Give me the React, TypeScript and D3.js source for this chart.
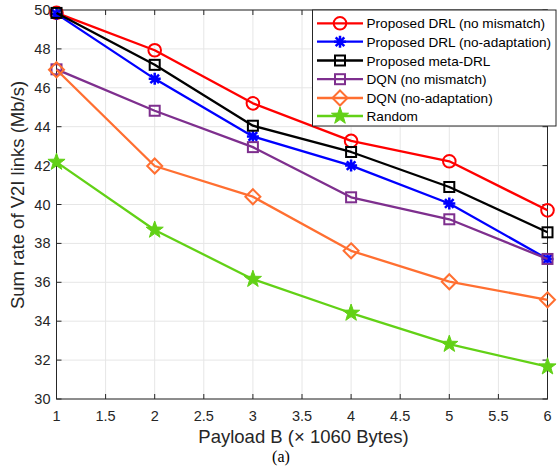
import React from "react";
import * as d3 from "d3";

const payloads = [1, 2, 3, 4, 5, 6];
const drlNoMismatch = [49.85, 47.93, 45.2, 43.27, 42.22, 39.7];
const drlNoAdaptation = [49.8, 46.46, 43.5, 42.0, 40.05, 37.2];
const metaDrl = [49.85, 47.18, 44.05, 42.7, 40.9, 38.57];
const dqnNoMismatch = [46.95, 44.82, 42.95, 40.37, 39.24, 37.2];
const dqnNoAdaptation = [46.93, 41.98, 40.4, 37.62, 36.03, 35.1];
const randomPolicy = [42.18, 38.69, 36.16, 34.42, 32.82, 31.66];

const xTicks = [1, 1.5, 2, 2.5, 3, 3.5, 4, 4.5, 5, 5.5, 6];
const yTicks = [30, 32, 34, 36, 38, 40, 42, 44, 46, 48, 50];

type Marker = "circle" | "asterisk" | "square" | "diamond" | "star";
const series: { name: string; values: number[]; color: string; marker: Marker }[] = [
  { name: "Proposed DRL (no mismatch)", values: drlNoMismatch, color: "#ff0000", marker: "circle" },
  { name: "Proposed DRL (no-adaptation)", values: drlNoAdaptation, color: "#0000ff", marker: "asterisk" },
  { name: "Proposed meta-DRL", values: metaDrl, color: "#000000", marker: "square" },
  { name: "DQN (no mismatch)", values: dqnNoMismatch, color: "#7e2f8e", marker: "square" },
  { name: "DQN (no-adaptation)", values: dqnNoAdaptation, color: "#ff6f31", marker: "diamond" },
  { name: "Random", values: randomPolicy, color: "#62d116", marker: "star" },
];

const W = 557;
const H = 468;
const L = 56.5, R = 547.5, T = 10, B = 399;
const FONT = "'Liberation Sans', Arial, Helvetica, sans-serif";
const AX = "#262626";

function MarkerShape({ type, x, y, color }: { type: Marker; x: number; y: number; color: string }) {
  const sw = 2;
  if (type === "circle") return <circle cx={x} cy={y} r={6.3} fill="none" stroke={color} strokeWidth={sw} />;
  if (type === "square") return <rect x={x - 5} y={y - 5} width={10} height={10} fill="none" stroke={color} strokeWidth={sw} />;
  if (type === "diamond") {
    const r = 7.5;
    return <path d={`M${x},${y - r}L${x + r},${y}L${x},${y + r}L${x - r},${y}Z`} fill="none" stroke={color} strokeWidth={sw} />;
  }
  if (type === "asterisk") {
    const r = 6;
    const d = r * 0.72;
    return (
      <path
        d={`M${x - r},${y}L${x + r},${y}M${x},${y - r}L${x},${y + r}M${x - d},${y - d}L${x + d},${y + d}M${x - d},${y + d}L${x + d},${y - d}`}
        stroke={color}
        strokeWidth={2.5}
        fill="none"
      />
    );
  }
  const outer = 9, inner = 3.6;
  const pts: string[] = [];
  for (let i = 0; i < 10; i++) {
    const a = -Math.PI / 2 + (i * Math.PI) / 5;
    const rr = i % 2 === 0 ? outer : inner;
    pts.push(`${x + rr * Math.cos(a)},${y + rr * Math.sin(a)}`);
  }
  return <polygon points={pts.join(" ")} fill={color} stroke={color} strokeWidth={1} />;
}

export default function App() {
  const x = d3.scaleLinear().domain([1, 6]).range([L, R]);
  const y = d3.scaleLinear().domain([30, 50]).range([B, T]);
  const line = d3
    .line<number>()
    .x((_, i) => x(payloads[i]))
    .y((v) => y(v));

  const legX = 312.5, legY = 10, legW = 556 - 312.5, legH = 116;
  const rowY = [23.3, 41.7, 60.5, 79.2, 98, 116];

  return (
    <svg width={W} height={H} style={{ position: "absolute", left: 0, top: 0, background: "#fff" }} fontFamily={FONT}>
      <rect x={0} y={0} width={W} height={H} fill="#fff" />
      {xTicks.map((t) => (
        <line key={"gx" + t} x1={x(t)} x2={x(t)} y1={T} y2={B} stroke="#e6e6e6" strokeWidth={1} />
      ))}
      {yTicks.map((t) => (
        <line key={"gy" + t} x1={L} x2={R} y1={y(t)} y2={y(t)} stroke="#e6e6e6" strokeWidth={1} />
      ))}
      {xTicks.map((t) => (
        <g key={"tx" + t}>
          <line x1={x(t)} x2={x(t)} y1={B} y2={B - 5} stroke={AX} />
          <line x1={x(t)} x2={x(t)} y1={T} y2={T + 5} stroke={AX} />
          <text x={x(t)} y={B + 22} textAnchor="middle" fontSize={14.5} fill={AX}>
            {t}
          </text>
        </g>
      ))}
      {yTicks.map((t) => (
        <g key={"ty" + t}>
          <line x1={L} x2={L + 5} y1={y(t)} y2={y(t)} stroke={AX} />
          <line x1={R} x2={R - 5} y1={y(t)} y2={y(t)} stroke={AX} />
          <text x={L - 6} y={y(t) + 5} textAnchor="end" fontSize={14.5} fill={AX}>
            {t}
          </text>
        </g>
      ))}
      <rect x={L} y={T} width={R - L} height={B - T} fill="none" stroke={AX} strokeWidth={1} />
      {series.map((s) => (
        <g key={s.name}>
          <path d={line(s.values) || ""} fill="none" stroke={s.color} strokeWidth={2.3} strokeLinejoin="round" />
          {s.values.map((v, i) => (
            <MarkerShape key={i} type={s.marker} x={x(payloads[i])} y={y(v)} color={s.color} />
          ))}
        </g>
      ))}
      <rect x={legX} y={legY} width={legW} height={legH} fill="#fff" stroke={AX} strokeWidth={1} />
      {series.map((s, i) => (
        <g key={"leg" + s.name}>
          <line x1={317} x2={363} y1={rowY[i]} y2={rowY[i]} stroke={s.color} strokeWidth={2.3} />
          <MarkerShape type={s.marker} x={340} y={rowY[i]} color={s.color} />
          <text x={366.5} y={rowY[i] + 5} fontSize={13.6} fill="#000">
            {s.name}
          </text>
        </g>
      ))}
      <text x={303.5} y={442.5} textAnchor="middle" fontSize={18.5} fill={AX}>
        Payload B (× 1060 Bytes)
      </text>
      <text
        transform={`translate(24,195) rotate(-90)`}
        textAnchor="middle"
        fontSize={18.5}
        fill={AX}
      >
        Sum rate of V2I links (Mb/s)
      </text>
      <text x={281} y={461.5} textAnchor="middle" fontSize={16} fill="#000" fontFamily="'Liberation Serif', 'Times New Roman', serif">
        (a)
      </text>
    </svg>
  );
}
